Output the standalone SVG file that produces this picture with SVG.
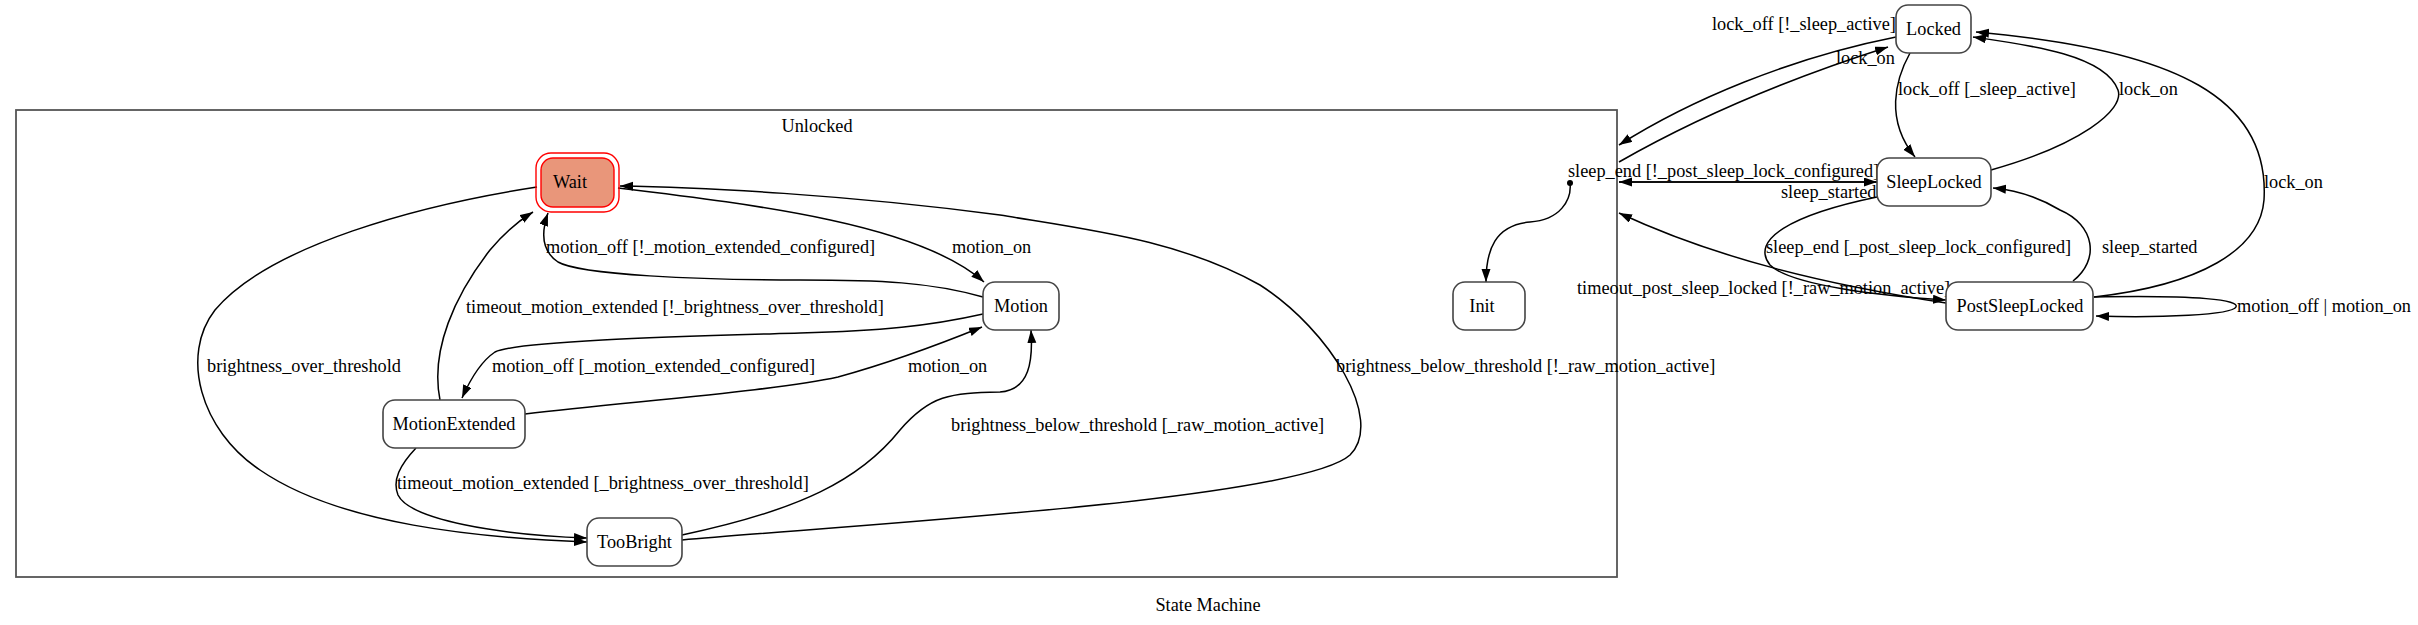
<svg xmlns="http://www.w3.org/2000/svg" width="2418" height="625" viewBox="0 0 2418 625">
<style>
text{font-family:"Liberation Serif","Times New Roman",serif;font-size:18.3px;fill:#000}
.n{fill:#fff;stroke:#444;stroke-width:1.6}
.e{fill:none;stroke:#000;stroke-width:1.5;marker-end:url(#ah)}
.c{text-anchor:middle}
</style>
<defs>
<marker id="ah" markerUnits="userSpaceOnUse" markerWidth="14" markerHeight="10" refX="13" refY="4.5" orient="auto"><path d="M0,0 L13,4.5 L0,9 z" fill="#000"/></marker>
</defs>
<rect width="2418" height="625" fill="#fff"/>
<g id="cluster_Unlocked">
<rect x="16" y="110" width="1601" height="467" fill="none" stroke="#555" stroke-width="1.8"/>
<text class="c" x="817" y="132">Unlocked</text>
</g>
<g id="connectors">
<path class="e" d="M682,540 C850,525 1300,500 1350,455 C1385,420 1330,330 1260,285 C1180,240 1090,230 1000,215 C850,195 700,187 620,186"/>
<path class="e" d="M618,188 C760,205 920,225 984,282"/>
<path class="e" d="M983,297 C930,282 880,280 800,280 C700,280 580,275 558,262 C540,250 542,230 548,213"/>
<path class="e" d="M983,314 C930,326 880,331 800,333 C700,336 520,340 495,352 C480,362 470,380 462,398"/>
<path class="e" d="M440,400 C430,350 455,295 490,250 C505,232 520,220 533,212"/>
<path class="e" d="M525,414 C650,400 780,390 838,377 C900,360 950,340 982,327"/>
<path class="e" d="M537,187 C420,205 270,245 215,310 C180,355 200,430 260,470 C340,525 480,538 587,542"/>
<path class="e" d="M416,448 C400,465 392,480 398,495 C410,520 500,535 587,538"/>
<path class="e" d="M682,535 C800,510 860,480 900,430 C930,395 950,393 1000,392 C1030,390 1033,360 1031,330"/>
<path class="e" d="M1896,37 C1790,58 1690,100 1619,145"/>
<path class="e" d="M1619,162 C1710,110 1800,75 1888,47"/>
<path class="e" d="M1910,53 C1895,80 1885,120 1915,157"/>
<path class="e" d="M1991,170 C2080,145 2125,110 2118,90 C2105,55 2030,45 1973,37"/>
<path class="e" d="M1877,182 L1619,182"/>
<path class="e" d="M1619,182 L1877,182"/>
<path class="e" d="M1877,197 C1790,215 1750,240 1770,265 C1790,285 1880,296 1946,300"/>
<path class="e" d="M2073,281 C2100,260 2095,225 2060,210 C2040,198 2015,190 1993,188"/>
<path class="e" d="M2094,297 C2200,285 2260,250 2264,200 C2270,100 2180,50 1976,32"/>
<path class="e" d="M1946,303 C1830,285 1720,260 1619,213"/>
<path class="e" d="M2094,297 C2200,295 2240,300 2236,307 C2232,315 2160,318 2096,316"/>
<circle cx="1570" cy="183" r="3" fill="#000"/>
<path class="e" d="M1570,183 C1572,200 1560,220 1530,222 C1495,225 1486,250 1486,282"/>
<text x="952" y="253">motion_on</text>
<text x="546" y="253">motion_off [!_motion_extended_configured]</text>
<text x="466" y="313">timeout_motion_extended [!_brightness_over_threshold]</text>
<text x="492" y="372">motion_off [_motion_extended_configured]</text>
<text x="908" y="372">motion_on</text>
<text x="207" y="372">brightness_over_threshold</text>
<text x="397" y="489">timeout_motion_extended [_brightness_over_threshold]</text>
<text x="951" y="431">brightness_below_threshold [_raw_motion_active]</text>
<text x="1336" y="372">brightness_below_threshold [!_raw_motion_active]</text>
<text x="1712" y="30">lock_off [!_sleep_active]</text>
<text x="1836" y="64">lock_on</text>
<text x="1898" y="95">lock_off [_sleep_active]</text>
<text x="2119" y="95">lock_on</text>
<text x="1568" y="177">sleep_end [!_post_sleep_lock_configured]</text>
<text x="1781" y="198">sleep_started</text>
<text x="1766" y="253">sleep_end [_post_sleep_lock_configured]</text>
<text x="2102" y="253">sleep_started</text>
<text x="2264" y="188">lock_on</text>
<text x="1577" y="294">timeout_post_sleep_locked [!_raw_motion_active]</text>
<text x="2237" y="312">motion_off | motion_on</text>
</g>
<g id="Wait">
<rect x="536" y="153" width="83" height="59" rx="15" fill="none" stroke="#f00" stroke-width="1.4"/>
<rect x="541" y="158" width="73" height="49" rx="12" fill="#e9967a" stroke="#f00" stroke-width="1.4"/>
<text class="c" x="570" y="188">Wait</text>
</g>
<g id="Motion"><rect class="n" x="983" y="282" width="76" height="48" rx="12"/><text class="c" x="1021" y="312">Motion</text></g>
<g id="Init"><rect class="n" x="1453" y="282" width="72" height="48" rx="12"/><text class="c" x="1482" y="312">Init</text></g>
<g id="MotionExtended"><rect class="n" x="383" y="400" width="142" height="48" rx="12"/><text class="c" x="454" y="430">MotionExtended</text></g>
<g id="TooBright"><rect class="n" x="587" y="518" width="95" height="48" rx="12"/><text class="c" x="634.5" y="548">TooBright</text></g>
<g id="Locked"><rect class="n" x="1896" y="5" width="75" height="48" rx="12"/><text class="c" x="1933.5" y="35">Locked</text></g>
<g id="SleepLocked"><rect class="n" x="1877" y="158" width="114" height="48" rx="12"/><text class="c" x="1934" y="188">SleepLocked</text></g>
<g id="PostSleepLocked"><rect class="n" x="1946" y="282" width="147" height="48" rx="12"/><text class="c" x="2020" y="312">PostSleepLocked</text></g>
<text class="c" x="1208" y="611">State Machine</text>
</svg>
